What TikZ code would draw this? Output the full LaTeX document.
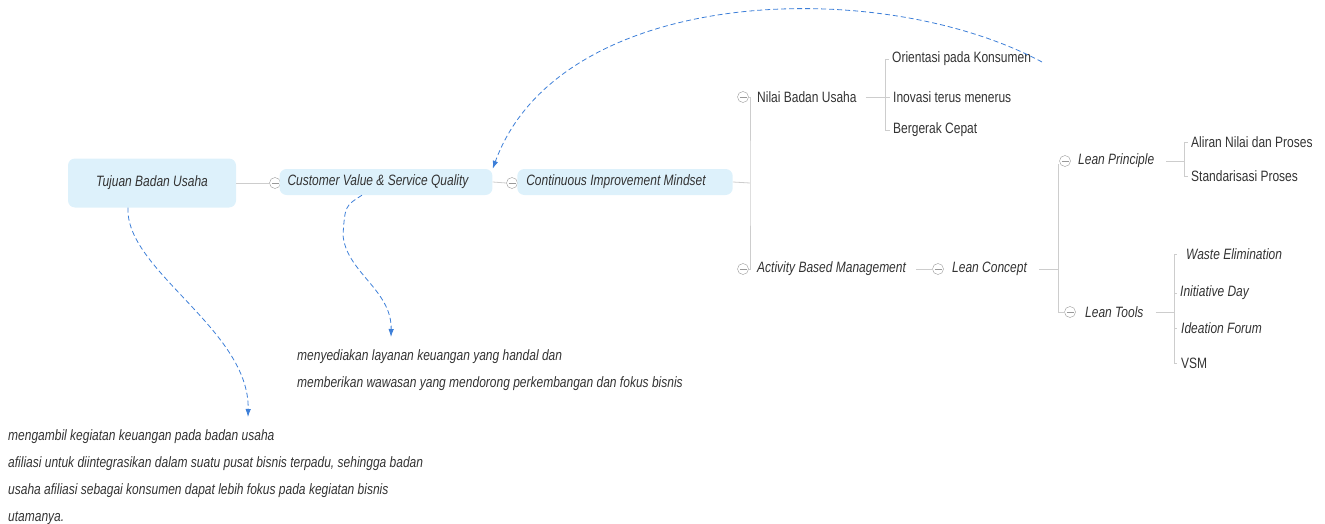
\documentclass[tikz,border=0pt]{standalone}
\usepackage{fontspec}
\setmainfont{Liberation Sans}
\newfontfamily\mapfont{Liberation Sans}[FakeStretch=0.8]
\usetikzlibrary{positioning,arrows.meta,calc}
\definecolor{boxblue}{HTML}{DDF1FB}
\definecolor{linegray}{HTML}{CDCDCD}
\definecolor{linkblue}{HTML}{3D7FD8}
\definecolor{txtgray}{HTML}{333333}

\begin{document}
\begin{tikzpicture}[x=1pt,y=-1pt,
    font=\mapfont\fontsize{15}{18}\selectfont,
    topic/.style={fill=boxblue,rounded corners=7pt,text=txtgray,inner sep=0pt,
      font=\mapfont\fontsize{15}{18}\selectfont\itshape},
    leaf/.style={anchor=west,text=txtgray,inner sep=0pt},
    ital/.style={font=\mapfont\fontsize{15}{18}\selectfont\itshape},
    fold/.style={circle,draw=gray!80,inner sep=0pt,minimum size=11pt,
      path picture={\draw[gray!80] ([xshift=2pt]path picture bounding box.west)
        -- ([xshift=-2pt]path picture bounding box.east);}},
    branch/.style={draw=linegray,line width=0.8pt},
    link/.style={draw=linkblue,dash pattern=on 5pt off 3pt,line width=0.8pt,
      -{Latex[length=8pt,width=5.5pt]}},
    note/.style={anchor=north west,align=left,text=txtgray,inner sep=0pt,
      font=\mapfont\fontsize{15}{27}\selectfont\itshape}]
  \useasboundingbox (0,0) rectangle (1325,524);

  % main line
  \node[topic,minimum width=168pt,minimum height=49pt] (goal) at (152,183) {Tujuan Badan Usaha};
  \node[fold] (f1) at (275,183) {};
  \node[topic,inner xsep=8pt,minimum height=26pt] (cvsq) at (386,182) {Customer Value \& Service Quality\kern16pt};
  \node[fold] (f2) at (512,183) {};
  \node[topic,inner xsep=9pt,minimum height=26pt] (cim) at (625,182) {Continuous Improvement Mindset\kern18pt};
  \coordinate (trunk) at (750,183);

  % nilai
  \node[fold] (f3) at (743,97) {};
  \node[leaf] (nilai) at (757,97) {Nilai Badan Usaha};
  \coordinate (nb) at (885,97);
  \node[leaf] (o1) at (892,59) {Orientasi pada Konsumen};
  \node[leaf] (o2) at (893,97) {Inovasi terus menerus};
  \node[leaf] (o3) at (893,130) {Bergerak Cepat};

  % activity based management
  \node[fold] (f4) at (743,269) {};
  \node[leaf,ital] (abm) at (757,269) {Activity Based Management};
  \node[fold] (f5) at (938,269) {};
  \node[leaf,ital] (lc) at (952,269) {Lean Concept};
  \coordinate (lcb) at (1058,269);

  \node[fold] (f6) at (1065,161) {};
  \node[leaf,ital] (lp) at (1078,161) {Lean Principle};
  \coordinate (lpb) at (1184,161);
  \node[leaf] (p1) at (1191,142) {Aliran Nilai dan Proses};
  \node[leaf] (p2) at (1191,176) {Standarisasi Proses};

  \node[fold] (f7) at (1070,312) {};
  \node[leaf,ital] (lt) at (1085,312) {Lean Tools};
  \coordinate (ltb) at (1174,312);
  \node[leaf,ital] (t1) at (1186,254) {Waste Elimination};
  \node[leaf,ital] (t2) at (1180,293) {Initiative Day};
  \node[leaf,ital] (t3) at (1181,328) {Ideation Forum};
  \node[leaf] (t4) at (1181,363) {VSM};

  % notes
  \node[note] (desc1) at (297,349) {menyediakan layanan keuangan yang handal dan\\
    memberikan wawasan yang mendorong perkembangan dan fokus bisnis};
  \node[note] (desc2) at (8,429) {mengambil kegiatan keuangan pada badan usaha\\
    afiliasi untuk diintegrasikan dalam suatu pusat bisnis terpadu, sehingga badan\\
    usaha afiliasi sebagai konsumen dapat lebih fokus pada kegiatan bisnis\\
    utamanya.};

  % branches
  \draw[branch] (goal.east) -- (f1.west);
  \draw[branch] (cvsq.east) -- (f2.west);
  \draw[branch] (cim.east) -- (trunk);
  \draw[branch] (f3.east) -| (trunk) |- (f4.east);
  \draw[branch] ([xshift=9pt]nilai.east) -- (nb);
  \draw[branch] (nb |- o1.west) -- (nb |- o3.west);
  \foreach \c in {o1,o2,o3}
    \draw[branch] (nb |- \c.west) -- ([xshift=-3pt]\c.west);
  \draw[branch] ([xshift=10pt]abm.east) -- (f5.west);
  \draw[branch] ([xshift=12pt]lc.east) -- (lcb);
  \draw[branch] ([yshift=-3pt]f6.west) -| (lcb) |- (f7.west);
  \draw[branch] ([xshift=12pt]lp.east) -- (lpb);
  \draw[branch] (lpb |- p1.west) -- (lpb |- p2.west);
  \foreach \c in {p1,p2}
    \draw[branch] (lpb |- \c.west) -- ([xshift=-3pt]\c.west);
  \draw[branch] ([xshift=12pt]lt.east) -- (ltb);
  \draw[branch] (ltb |- t1.west) -- (ltb |- t4.west);
  \foreach \c in {t1,t2,t3,t4}
    \draw[branch] (ltb |- \c.west) -- ++(3,0);

  % links
  \coordinate (linkA) at ([xshift=150pt,yshift=-3pt]o1.west);
  \draw[link] (linkA) .. controls (880,-25) and (560,-15) .. (cvsq.north east);
  \coordinate (linkB) at ([xshift=-24pt]cvsq.south);
  \coordinate (tipB) at ([xshift=94pt,yshift=12pt]desc1.north west);
  \draw[link] (linkB) .. controls (345,206) .. (343,235)
    .. controls (346,272) and (392,290) .. (tipB);
  \coordinate (linkC) at ([xshift=-24pt]goal.south);
  \coordinate (tipC) at ([xshift=240pt,yshift=12pt]desc2.north west);
  \draw[link] (linkC) .. controls (125,270) and (250,330) .. (tipC);
\end{tikzpicture}
\end{document}
